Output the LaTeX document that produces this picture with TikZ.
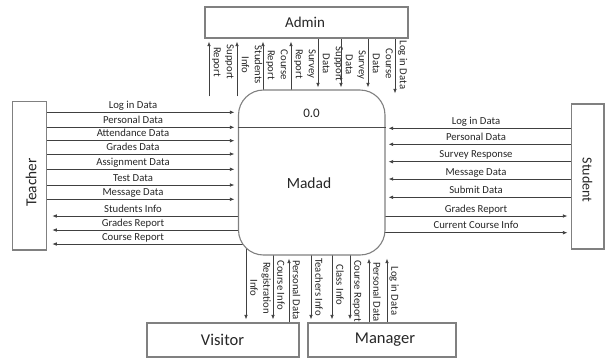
\documentclass[tikz,border=0pt]{standalone}
\usepackage{fontspec}
\setmainfont{Carlito}
\usetikzlibrary{arrows.meta,backgrounds,calc}
\begin{document}
\begin{tikzpicture}[x=1pt,y=-1pt,
  entity/.style={draw=black!50, line width=1.1pt, fill=white, inner sep=0pt},
  process/.style={entity, rounded corners=25pt},
  bigname/.style={font=\fontsize{#1}{#1}\selectfont, text=black!85, inner sep=0pt},
  flow/.style={draw=black!75, line width=0.75pt, -{Latex[length=4.5pt,width=3.6pt]}},
  lbl/.style={font=\fontsize{10.7}{13}\selectfont, text=black!85, inner sep=0pt,
    text depth=0pt, anchor=base},
  vlbl/.style={lbl, rotate=-90, anchor=south, align=center},
]
\useasboundingbox (0,0) rectangle (606,360);

% external entities and the central process
\node[entity, minimum width=203pt, minimum height=31pt] (admin) at (306.5,22.5) {};
\node[entity, minimum width=34pt, minimum height=148.3pt] (teacher) at (29.7,175.85) {};
\node[entity, minimum width=32.3pt, minimum height=145pt] (student) at (587.85,176.5) {};
\node[entity, minimum width=152pt, minimum height=34pt] (visitor) at (223,340) {};
\node[entity, minimum width=148pt, minimum height=34pt] (manager) at (382,340) {};
\node[process, minimum width=146.5pt, minimum height=165pt] (madad) at (311.75,172.5) {};
\draw[draw=black!70, line width=0.9pt] (madad.west |- 0,127) -- (madad.east |- 0,127);

% entity and process names
\node[bigname=15] (adminname) at (305,22.5) {Admin};
\node[bigname=15.3, rotate=90] (teachername) at (31,182.5) {Teacher};
\node[bigname=14, rotate=-90] (studentname) at (587.5,180) {Student};
\node[bigname=16.5] (visitorname) at (222.5,340) {Visitor};
\node[bigname=16.5] (managername) at (385,340) {Manager};
\node[bigname=15.5] (madadname) at (309,183) {Madad};
\node[bigname=13] (madadid) at (311.5,113.5) {0.0};

\begin{scope}[on background layer]
% Teacher -> Madad
\foreach \y/\t in {112.3/Log in Data, 127.3/Personal Data, 140.7/Attendance Data,
    154/Grades Data, 169.3/Assignment Data, 185/Test Data, 199.3/Message Data}
  \draw[flow, shorten >=3.5pt] (teacher.east |- 0,\y) -- (madad.west |- 0,\y)
    node[lbl] at (133,\y-4) {\t};
% Madad -> Teacher
\foreach \y/\t in {216/Students Info, 230/Grades Report, 244/Course Report}
  \draw[flow, shorten >=5pt] ($(madad.west |- 0,\y)+(10,0)$) -- (teacher.east |- 0,\y)
    node[lbl] at (133,\y-4) {\t};

% Student -> Madad
\foreach \y/\t in {128.3/Log in Data, 144.3/Personal Data, 161.7/Survey Response,
    179/Message Data, 197.3/Submit Data}
  \draw[flow, shorten >=3pt] (student.west |- 0,\y) -- (madad.east |- 0,\y)
    node[lbl] at (476,\y-4) {\t};
% Madad -> Student
\foreach \y/\t in {216/Grades Report, 232.7/Current Course Info}
  \draw[flow, shorten >=3.7pt] ($(madad.east |- 0,\y)+(-10,0)$) -- (student.west |- 0,\y)
    node[lbl] at (476,\y-4) {\t};

% Madad -> Admin
\foreach \x/\c/\t in {209/62/Support\\Report, 237/65/Students\\Info}
  \draw[flow, shorten >=3pt] ($(madad.north -| \x,0)+(0,7)$) -- (admin.south -| \x,0)
    node[vlbl] at (\x+4.5,\c) {\t};
\foreach \x/\c/\t in {263/65/Course\\Report, 291/64/Survey\\Report}
  \draw[flow, shorten >=3pt] ($(madad.north -| \x,0)+(0,10)$) -- (admin.south -| \x,0)
    node[vlbl] at (\x+4.5,\c) {\t};
% Admin -> Madad
\foreach \x/\c/\t in {318/64/Support\\Data, 341/65/Survey\\Data, 368/64/Course\\Data}
  \draw[flow, shorten >=2pt] (admin.south -| \x,0) -- (madad.north -| \x,0)
    node[vlbl] at (\x+4.5,\c) {\t};
\draw[flow] (admin.south -| 395,0) -- ($(madad.north -| 395,0)+(0,4)$)
  node[vlbl] at (399.5,65) {Log in Data};

% Madad -> Visitor, Visitor -> Madad
\draw[flow, shorten >=3pt] ($(madad.south -| 246,0)+(0,-10)$) -- (visitor.north -| 246,0)
  node[vlbl] at (250,288) {Registration\\Info};
\draw[flow, shorten >=3pt] ($(madad.south -| 273,0)+(0,-10)$) -- (visitor.north -| 273,0)
  node[vlbl] at (277,285) {Course Info};
\draw[flow, shorten >=3pt] (visitor.north -| 289,0) -- (madad.south -| 289,0)
  node[vlbl] at (292.5,290) {Personal Data};

% Madad -> Manager, Manager -> Madad
\foreach \x/\c/\t in {311/287/Teachers Info, 332/285/Class Info, 350/291/Course Report}
  \draw[flow, shorten >=3pt] ($(madad.south -| \x,0)+(0,-10)$) -- (manager.north -| \x,0)
    node[vlbl] at (\x+4,\c) {\t};
\foreach \x/\c/\t in {369/292/Personal Data, 387/291/Log in Data}
  \draw[flow, shorten >=3pt] (manager.north -| \x,0) -- (madad.south -| \x,0)
    node[vlbl] at (\x+4,\c) {\t};
\end{scope}
\end{tikzpicture}
\end{document}
